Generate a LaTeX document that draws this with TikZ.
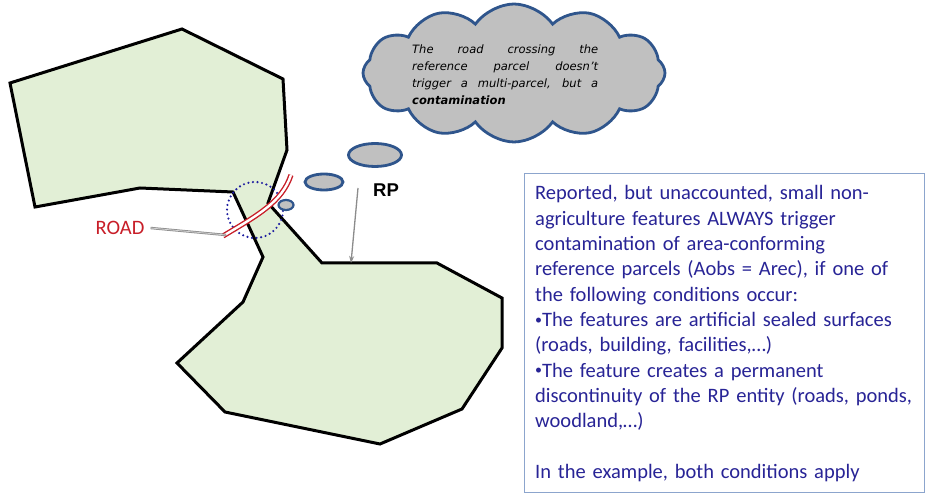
\documentclass[tikz,border=0pt]{standalone}
\usepackage{fontspec}
\setmainfont{Carlito}
\newfontfamily\labelfont{Liberation Sans}
\newfontfamily\thoughtfont{DejaVu Sans}
\usetikzlibrary{shapes.symbols,shapes.geometric,arrows.meta}
\definecolor{parcelfill}{RGB}{226,239,214}
\definecolor{cloudgray}{RGB}{192,192,192}
\definecolor{cloudblue}{RGB}{47,85,140}
\definecolor{notenavy}{RGB}{40,36,150}
\definecolor{boxedge}{RGB}{140,165,205}
\definecolor{roadred}{RGB}{200,30,40}
\definecolor{circlenavy}{RGB}{30,30,160}
\definecolor{pointergray}{RGB}{140,140,140}
% a small, centred bullet
\newcommand{\notebullet}{\raisebox{0.25ex}{\fontsize{14}{14}\selectfont•}}
% one stretched line of the thought text
\newcommand{\thoughtline}[1]{\makebox[186pt][s]{#1}}

\begin{document}
\begin{tikzpicture}[x=1pt,y=-1pt,
  parcel/.style={fill=parcelfill, draw=black, line width=3pt, line join=miter},
  bubble/.style={fill=cloudgray, draw=cloudblue, line width=2.8pt},
  puff/.style={bubble, ellipse, inner sep=0pt},
  focus/.style={draw=circlenavy, line width=2.4pt, line cap=round, dash pattern=on 0pt off 4.6pt},
  roadline/.style={draw=roadred, line width=1.4pt, double=white, double distance=2.4pt},
  pointer/.style={draw=pointergray, line width=1.3pt},
  roadpointer/.style={draw=pointergray, line width=0.8pt, double=pointergray!40, double distance=0.8pt},
  noteframe/.style={draw=boxedge, line width=1.4pt, anchor=north west, minimum width=400pt,
    minimum height=319pt, inner sep=0pt},
  notetext/.style={anchor=base west, text width=390pt, inner sep=0pt, align=left,
    text=notenavy, font=\fontsize{20.5}{25.3}\selectfont}
]
\useasboundingbox (0,0) rectangle (925,502);
\fill[white] (0,0) rectangle (925,502);

% reference parcel: two lobes joined by a narrow neck
\draw[parcel] (10,83) -- (182,29) -- (283,79) -- (287,150) -- (268,203)
  -- (322,263) -- (437,263) -- (502,298) -- (502,348) -- (462,409)
  -- (380,444) -- (225,412) -- (177,363) -- (243,302) -- (263,257)
  -- (233,192) -- (140,188) -- (35,207) -- cycle;

% dotted circle around the road crossing
\node[focus, circle, minimum size=56pt, inner sep=0pt] (crossing) at (255,210) {};

% thought bubble
\node[bubble, cloud, cloud puffs=12, cloud puff arc=110, cloud ignores aspect,
  minimum width=302pt, minimum height=138pt, inner sep=0pt] (thought) at (514,73) {};
\node[align=left, inner sep=0pt, anchor=north west,
  font=\thoughtfont\itshape\fontsize{11.5}{17}\selectfont] (thoughtText) at (412,45)
  {\thoughtline{The road crossing the}\\
   \thoughtline{reference parcel doesn’t}\\
   \thoughtline{trigger a multi-parcel, but a}\\
   \textbf{contamination}};
\node[puff, minimum width=53pt, minimum height=23pt] (puffA) at (375,155) {};
\node[puff, minimum width=38pt, minimum height=16pt] (puffB) at (324,182) {};
\node[puff, minimum width=15pt, minimum height=10pt, line width=2.2pt] (puffC) at (286,205) {};

% the road crossing the neck
\coordinate (roadLow) at (223,236);
\coordinate (roadHigh) at (291,175);
\draw[roadline] (roadLow) .. controls (258,215) and (282,202) .. (roadHigh);

% labels and pointers
\node[text=roadred, font=\fontsize{20.5}{20.5}\selectfont, inner sep=6pt] (roadLbl) at (120,228) {ROAD};
\coordinate (roadTouch) at (226,235);
\draw[roadpointer] (roadLbl.east) -- (roadTouch);

\node[font=\labelfont\bfseries\fontsize{18.5}{18.5}\selectfont, inner sep=0pt] (rpLbl) at (386,190) {RP};
\coordinate (rpTail) at (358,188);
\coordinate (rpHead) at (351,263);
\draw[pointer, -{Stealth[length=7pt,width=5pt]}] (rpTail) -- (rpHead);

% explanatory note
\node[noteframe] (noteFrame) at (524,173) {};
\node[notetext] (note) at (535,200) {Reported, but unaccounted, small non-\\
agriculture features ALWAYS trigger\\
contamination of area-conforming\\
reference parcels (Aobs = Arec), if one of\\
the following conditions occur:\\
\notebullet The features are artificial sealed surfaces\\
(roads, building, facilities,…)\\
\notebullet The feature creates a permanent\\
discontinuity of the RP entity (roads, ponds,\\
woodland,…)\\[25.3pt]
In the example, both conditions apply};
\end{tikzpicture}
\end{document}
